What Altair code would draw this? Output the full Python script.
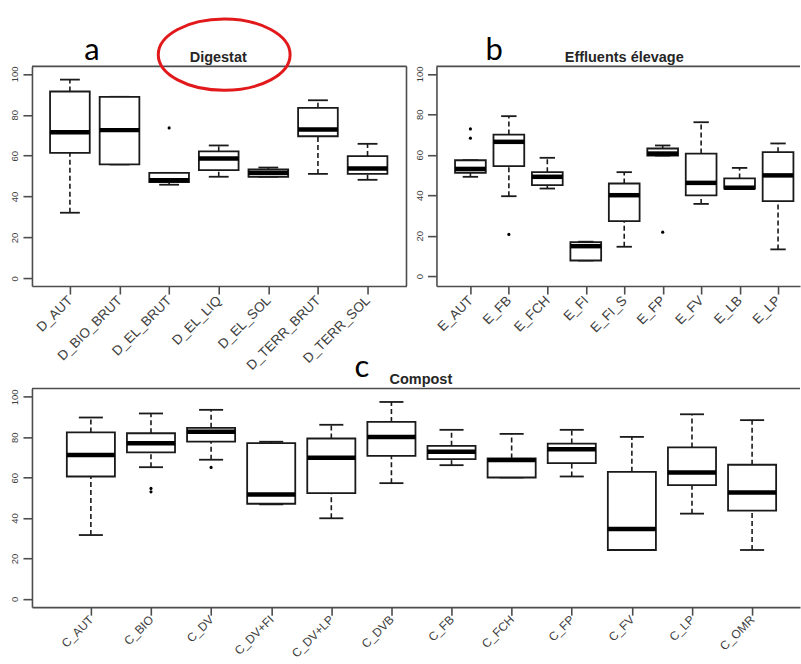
import altair as alt
import pandas as pd

# ---------------- data ----------------
# Panel a : Digestat
a_cats = ["D_AUT", "D_BIO_BRUT", "D_EL_BRUT", "D_EL_LIQ", "D_EL_SOL", "D_TERR_BRUT", "D_TERR_SOL"]
a_lo = [32.1, 55.7, 45.8, 49.7, 49.7, 51.1, 48.2]
a_q1 = [61.4, 55.7, 47.1, 52.9, 49.7, 69.5, 51.1]
a_med = [71.5, 72.5, 48.0, 58.6, 51.6, 72.8, 53.7]
a_q3 = [91.4, 88.8, 51.6, 62.1, 53.3, 83.4, 59.8]
a_hi = [97.2, 88.8, 51.6, 65.0, 54.2, 87.1, 65.8]
a_out_cat = ["D_EL_BRUT"]
a_out_val = [73.6]

# Panel b : Effluents élevage
b_cats = ["E_AUT", "E_FB", "E_FCH", "E_FI", "E_FI_S", "E_FP", "E_FV", "E_LB", "E_LP"]
b_lo = [49.1, 39.5, 43.3, 7.7, 14.5, 59.6, 35.7, 43.3, 13.2]
b_q1 = [51.1, 54.4, 45.0, 7.7, 27.2, 59.6, 39.9, 43.3, 37.1]
b_med = [53.0, 66.4, 49.1, 14.8, 40.0, 60.6, 46.1, 43.7, 49.8]
b_q3 = [57.3, 70.0, 51.4, 16.8, 45.8, 63.1, 60.6, 48.3, 61.3]
b_hi = [57.3, 79.1, 58.5, 17.0, 51.4, 64.6, 76.1, 53.5, 65.6]
b_out_cat = ["E_AUT", "E_AUT", "E_FB", "E_FP"]
b_out_val = [72.8, 68.2, 20.6, 21.7]

# Panel c : Compost
c_cats = ["C_AUT", "C_BIO", "C_DV", "C_DV+FI", "C_DV+LP", "C_DVB", "C_FB", "C_FCH",
          "C_FP", "C_FV", "C_LP", "C_OMR"]
c_lo = [31.6, 65.2, 68.9, 46.8, 39.9, 57.3, 66.2, 60.1, 60.6, 24.2, 42.2, 24.2]
c_q1 = [60.6, 72.5, 77.9, 47.1, 52.4, 70.8, 69.2, 60.1, 67.2, 24.2, 56.3, 43.7]
c_med = [71.2, 77.1, 82.7, 51.7, 69.9, 80.2, 72.8, 68.7, 74.1, 34.6, 62.6, 52.7]
c_q3 = [82.4, 82.0, 84.7, 77.1, 79.4, 87.6, 75.8, 69.5, 76.9, 62.9, 75.0, 66.4]
c_hi = [89.8, 91.8, 93.6, 77.8, 86.2, 97.5, 83.7, 81.7, 83.7, 80.2, 91.4, 88.5]
c_out_cat = ["C_BIO", "C_BIO", "C_DV"]
c_out_val = [54.7, 53.0, 65.1]

y_ticks = [0, 20, 40, 60, 80, 100]

# annotations (data-space anchors of each panel)
titles = ["Digestat", "Effluents élevage", "Compost"]
letters = ["a", "b", "c"]

# ---------------- style ----------------
FONT = "Liberation Sans"
FRAME = "#4d4d4d"
BOXC = "#1a1a1a"
LW = 1.6
ELLIPSE = "M-1,0 A1,0.54 0 1,1 1,0 A1,0.54 0 1,1 -1,0 Z"


def panel(cats, lo, q1, med, q3, hi, out_cat, out_val, xdom, ydom, width, height,
          title, title_xy, letter, letter_xy, xlab_size, xlab_pad,
          right_border=False, ellipse_xy=None):
    n = len(cats)
    df = pd.DataFrame({"i": list(range(1, n + 1)), "cat": cats, "lo": lo, "q1": q1,
                       "med": med, "q3": q3, "hi": hi})
    pos = {c: k + 1 for k, c in enumerate(cats)}
    odf = pd.DataFrame({"i": [pos[c] for c in out_cat], "v": out_val})

    xs = alt.Scale(domain=xdom, nice=False, zero=False)
    ys = alt.Scale(domain=ydom, nice=False, zero=False)
    label_expr = "[" + ",".join("'%s'" % c for c in cats) + "][datum.value - 1]"
    xaxis = alt.Axis(values=list(range(1, n + 1)), labelExpr=label_expr, labelAngle=315,
                     labelAlign="right", labelBaseline="middle", labelFont=FONT,
                     labelFontSize=xlab_size, labelColor="#404040", labelPadding=xlab_pad,
                     labelOverlap=False, labelFlush=False, tickSize=8, tickColor=FRAME,
                     tickWidth=LW, domainColor=FRAME, domainWidth=LW, grid=False, title=None)
    yaxis = alt.Axis(values=y_ticks, labelAngle=270, labelAlign="center",
                     labelBaseline="bottom", labelFont=FONT, labelFontSize=9.5,
                     labelColor="#404040", labelPadding=3, labelOverlap=False,
                     labelFlush=False, tickSize=9, tickColor=FRAME, tickWidth=LW,
                     domainColor=FRAME, domainWidth=LW, grid=False, title=None)

    def X(f):
        return alt.X(f, type="quantitative", scale=xs, axis=xaxis)

    def Y(f):
        return alt.Y(f, type="quantitative", scale=ys, axis=yaxis)

    base = alt.Chart(df).transform_calculate(
        xl="datum.i - 0.4", xr="datum.i + 0.4", cl="datum.i - 0.2", cr="datum.i + 0.2")

    wh_up = base.mark_rule(color=BOXC, strokeWidth=LW, strokeDash=[5, 3]).encode(
        x=X("i"), y=Y("q3"), y2="hi:Q")
    wh_lo = base.mark_rule(color=BOXC, strokeWidth=LW, strokeDash=[5, 3]).encode(
        x=X("i"), y=Y("lo"), y2="q1:Q")
    cap_hi = base.mark_rule(color=BOXC, strokeWidth=LW + 0.2).encode(
        x=X("cl"), x2="cr:Q", y=Y("hi"))
    cap_lo = base.mark_rule(color=BOXC, strokeWidth=LW + 0.2).encode(
        x=X("cl"), x2="cr:Q", y=Y("lo"))
    box = base.mark_rect(fill="white", stroke=BOXC, strokeWidth=1.8).encode(
        x=X("xl"), x2="xr:Q", y=Y("q1"), y2="q3:Q")
    mid = base.mark_rule(color="black", strokeWidth=4.5).encode(
        x=X("xl"), x2="xr:Q", y=Y("med"))
    outl = alt.Chart(odf).mark_circle(color="black", size=10, opacity=1).encode(
        x=X("i"), y=Y("v"))

    layers = [wh_up, wh_lo, cap_hi, cap_lo, box, mid, outl]
    layers.append(alt.Chart(pd.DataFrame({"y": [ydom[1]]})).mark_rule(
        color=FRAME, strokeWidth=LW).encode(y=Y("y")))
    if right_border:
        layers.append(alt.Chart(pd.DataFrame({"x": [xdom[1]]})).mark_rule(
            color=FRAME, strokeWidth=LW).encode(x=X("x")))

    tdf = pd.DataFrame({"x": [title_xy[0]], "y": [title_xy[1]], "t": [title]})
    layers.append(alt.Chart(tdf).mark_text(font=FONT, fontSize=14.5, fontWeight="bold",
                                           color="#262626", align="center",
                                           baseline="alphabetic").encode(
        x=X("x"), y=Y("y"), text="t:N"))
    ldf = pd.DataFrame({"x": [letter_xy[0]], "y": [letter_xy[1]], "t": [letter]})
    layers.append(alt.Chart(ldf).mark_text(font="Lato", fontSize=31, color="black",
                                           align="center", baseline="alphabetic").encode(
        x=X("x"), y=Y("y"), text="t:N"))
    if ellipse_xy is not None:
        edf = pd.DataFrame({"x": [ellipse_xy[0]], "y": [ellipse_xy[1]]})
        layers.append(alt.Chart(edf).mark_point(shape=ELLIPSE, size=17424, filled=False,
                                                color="#e2191b", strokeWidth=3,
                                                opacity=1).encode(x=X("x"), y=Y("y")))
    return alt.layer(*layers).properties(width=width, height=height)


pa = panel(a_cats, a_lo, a_q1, a_med, a_q3, a_hi, a_out_cat, a_out_val,
           [0.235, 7.785], [-3.76, 103.7], 375, 220,
           titles[0], (3.99, 106.0), letters[0], (1.443, 107.0), 13.5, 4,
           right_border=True, ellipse_xy=(4.11, 109.4))
pb = panel(b_cats, b_lo, b_q1, b_med, b_q3, b_hi, b_out_cat, b_out_val,
           [0.117, 9.571], [-4.94, 103.75], 364, 220,
           titles[1], (5.0, 106.1), letters[1], (1.62, 107.1), 13.5, 4)
pc = panel(c_cats, c_lo, c_q1, c_med, c_q3, c_hi, c_out_cat, c_out_val,
           [0.02, 12.797], [-4.1, 104.2], 769, 219,
           titles[2], (6.49, 106.3), letters[2], (5.51, 109.8), 12, 2)

top_row = alt.hconcat(pa, pb, spacing=30, bounds="flush")
chart = alt.vconcat(top_row, pc, spacing=322.5, bounds="flush").properties(
    padding={"left": 10, "top": 12, "right": 0, "bottom": 0},
    background="white",
).configure_view(stroke=None)

chart.save("out.html", embed_options={"renderer": "svg", "actions": False})
